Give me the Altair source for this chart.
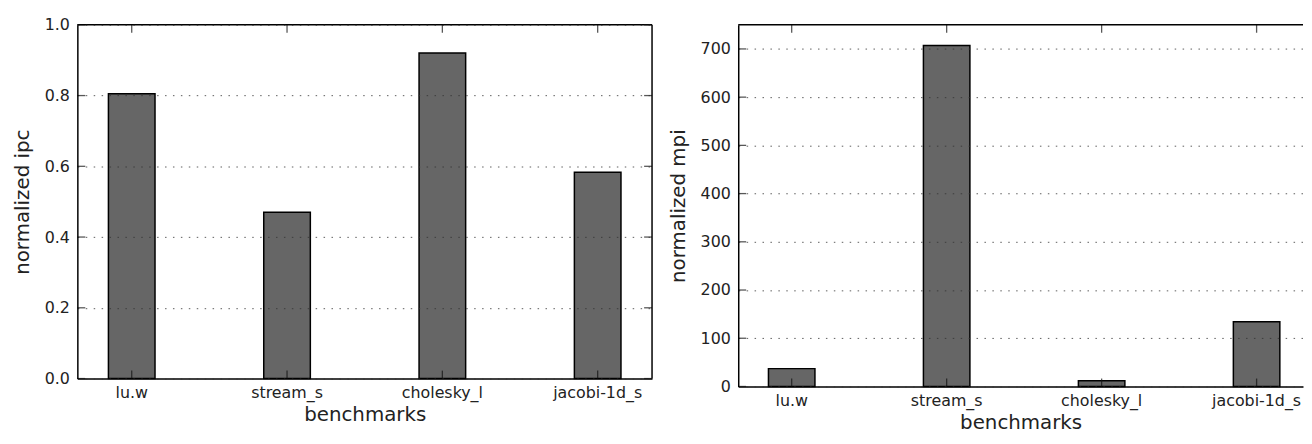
import altair as alt
import pandas as pd

benchmarks = ["lu.w", "stream_s", "cholesky_l", "jacobi-1d_s"]
ipc_values = [0.805, 0.47, 0.92, 0.583]
mpi_values = [37, 707, 12, 134]
ipc_ticks = [0.0, 0.2, 0.4, 0.6, 0.8, 1.0]
mpi_ticks = [0, 100, 200, 300, 400, 500, 600, 700]

FONT = "DejaVu Sans"
BAR_COLOR = "#666666"
TICK_LEN = 8
TICK_COLOR = "#111111"
TICK_W = 1.3


def panel(values, ydomain, yticks, ytitle, yfmt, width, height, pad_outer, align, right_border):
    df = pd.DataFrame({"bench": benchmarks, "value": values})
    tdf = pd.DataFrame({"value": yticks})
    one = pd.DataFrame({"k": [0]})

    xscale = alt.Scale(paddingInner=0.7, paddingOuter=pad_outer, align=align)
    yscale = alt.Scale(domain=ydomain, nice=False, zero=True)

    bars = alt.Chart(df).mark_bar(
        color=BAR_COLOR, stroke="black", strokeWidth=1.5
    ).encode(
        x=alt.X("bench:N", sort=benchmarks, scale=xscale,
                axis=alt.Axis(title="benchmarks", labelAngle=0, ticks=False,
                              domain=True, domainColor="black", domainWidth=1.5,
                              labelFont=FONT, labelFontSize=16, labelColor="#222222",
                              labelPadding=6, titleFont=FONT, titleFontSize=20,
                              titleFontWeight="normal", titleColor="#222222",
                              titlePadding=4)),
        y=alt.Y("value:Q", scale=yscale,
                axis=alt.Axis(title=ytitle, values=yticks, format=yfmt, ticks=False,
                              domain=True, domainColor="black", domainWidth=1.5,
                              grid=True, gridColor="#333333", gridDash=[1.5, 6.5],
                              gridWidth=1, gridOpacity=0.8, zindex=1,
                              labelFont=FONT, labelFontSize=16, labelColor="#222222",
                              labelPadding=8, titleFont=FONT, titleFontSize=20,
                              titleFontWeight="normal", titleColor="#222222",
                              titlePadding=12)),
    )

    def xtick(ypos):
        return alt.Chart(df).mark_tick(color=TICK_COLOR, thickness=TICK_W, size=TICK_LEN,
                                       orient="vertical").encode(
            x=alt.X("bench:N", sort=benchmarks), y=alt.value(ypos))

    def ytick(xpos):
        return alt.Chart(tdf).mark_tick(color=TICK_COLOR, thickness=TICK_W, size=TICK_LEN,
                                        orient="horizontal").encode(
            y=alt.Y("value:Q"), x=alt.value(xpos))

    top = alt.Chart(one).mark_rule(color="black", strokeWidth=1.5).encode(
        x=alt.value(0), x2=alt.value(width), y=alt.value(0))
    layers = [bars, xtick(TICK_LEN / 2), xtick(height - TICK_LEN / 2), ytick(TICK_LEN / 2), top]
    if right_border:
        right = alt.Chart(one).mark_rule(color="black", strokeWidth=1.5).encode(
            x=alt.value(width), y=alt.value(0), y2=alt.value(height))
        layers += [ytick(width - TICK_LEN / 2), right]
    return alt.layer(*layers).properties(width=width, height=height)


left = panel(ipc_values, [0, 1.0], ipc_ticks, "normalized ipc", ".1f", 580, 357, 0.2, 0.5, True)
right = panel(mpi_values, [0, 750], mpi_ticks, "normalized mpi", "d", 570, 365, 0.1722, 0.566, False)

chart = alt.hconcat(left, right, spacing=15).properties(
    padding={"left": 4, "top": 7, "right": 0, "bottom": 0}
).configure_view(stroke=None)

chart.save("out.html", embed_options={"renderer": "svg", "actions": False})
